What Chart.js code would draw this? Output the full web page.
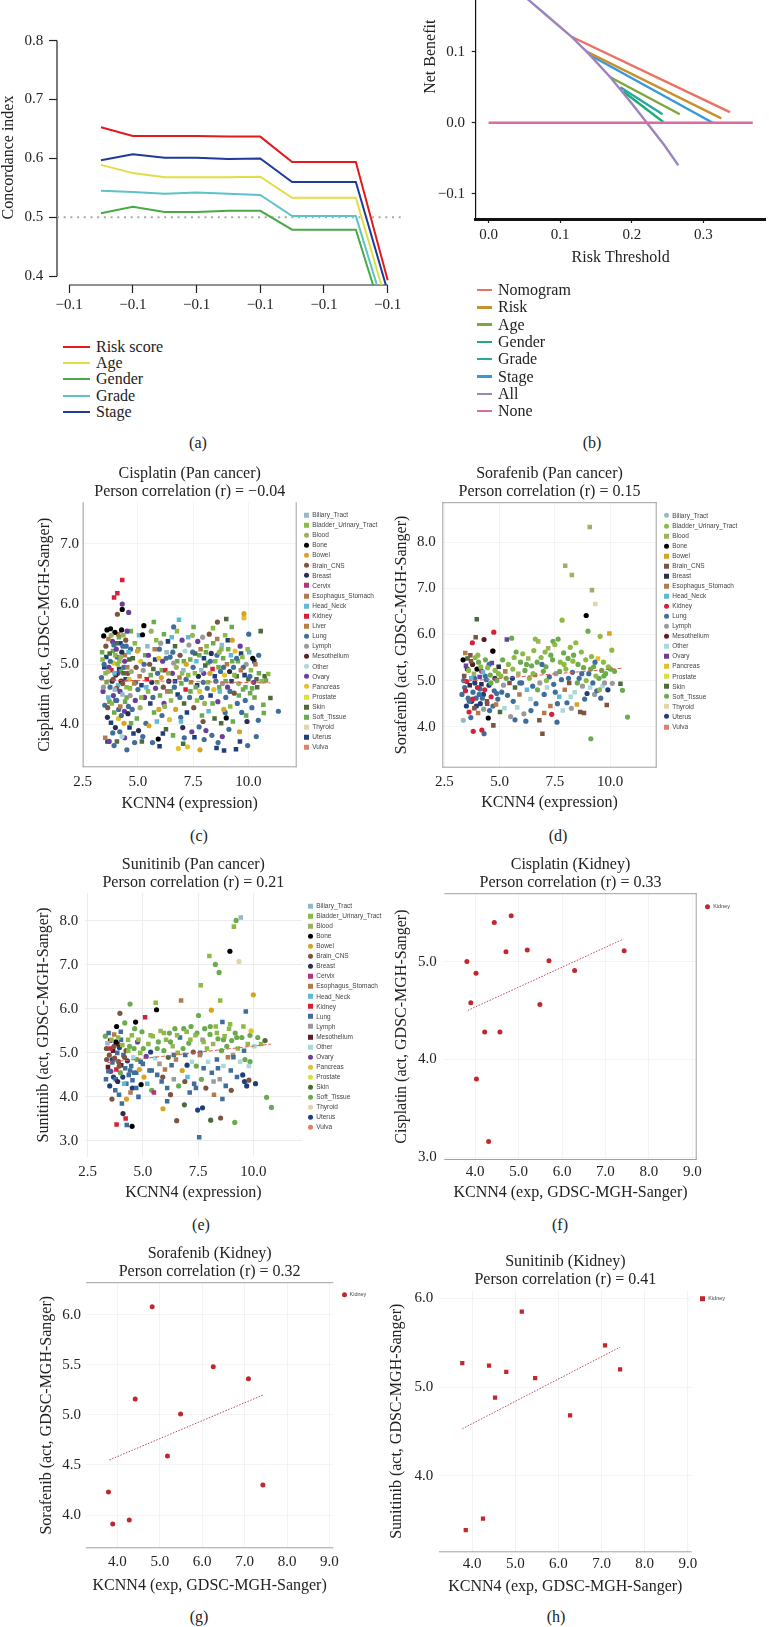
<!DOCTYPE html>
<html>
<head>
<meta charset="utf-8">
<title>KCNN4 figure</title>
<script src="https://cdn.jsdelivr.net/npm/chart.js"></script>
<style>
  body { margin: 0; width: 769px; height: 1627px; position: relative; overflow: hidden; background: #fff;
         font-family: "Liberation Serif", "Times New Roman", serif; color: #222; }
  canvas { position: absolute; }
  .lbl { position: absolute; font-size: 16px; transform: translate(-50%, -50%); white-space: nowrap; }
  .lrow { position: absolute; font-size: 16px; line-height: 1; transform: translateY(-50%); white-space: nowrap; display: flex; align-items: center; }
  .lrow i { display: inline-block; margin-right: 6px; }
  .trow { position: absolute; font-family: "Liberation Sans", Arial, sans-serif; font-size: 6.5px; color: #444;
          transform: translateY(-50%); white-space: nowrap; display: flex; align-items: center; line-height: 1; }
  .trow i { display: inline-block; width: 5px; height: 5px; margin-left: -2.5px; margin-right: 3px; }
</style>
</head>
<body>
  <canvas id="chartA"></canvas>
  <canvas id="chartB"></canvas>
  <canvas id="chartC"></canvas>
  <canvas id="chartD"></canvas>
  <canvas id="chartE"></canvas>
  <canvas id="chartF"></canvas>
  <canvas id="chartG"></canvas>
  <canvas id="chartH"></canvas>

  <div class="lbl" style="left:198px;top:443px">(a)</div>
  <div class="lbl" style="left:592px;top:443px">(b)</div>
  <div class="lbl" style="left:199px;top:836px">(c)</div>
  <div class="lbl" style="left:558px;top:836px">(d)</div>
  <div class="lbl" style="left:201px;top:1225px">(e)</div>
  <div class="lbl" style="left:560px;top:1225px">(f)</div>
  <div class="lbl" style="left:199px;top:1617px">(g)</div>
  <div class="lbl" style="left:556px;top:1617px">(h)</div>

<script>
// ---- (a) concordance index ----
const cIndexPos = [0.5, 1, 1.5, 2, 2.5, 3, 3.5, 4.5, 5];
const cIndexTicks = ['−0.1', '−0.1', '−0.1', '−0.1', '−0.1', '−0.1'];
const cIndexNames = ['Risk score', 'Age', 'Gender', 'Grade', 'Stage'];
const riskScoreC = [0.653, 0.638, 0.638, 0.638, 0.637, 0.637, 0.594, 0.594, 0.393];
const ageC       = [0.589, 0.575, 0.568, 0.568, 0.568, 0.569, 0.533, 0.533, 0.348];
const genderC    = [0.507, 0.518, 0.509, 0.509, 0.511, 0.511, 0.479, 0.479, 0.305];
const gradeC     = [0.545, 0.543, 0.540, 0.542, 0.540, 0.538, 0.502, 0.502, 0.325];
const stageC     = [0.597, 0.607, 0.601, 0.601, 0.599, 0.600, 0.560, 0.560, 0.374];
const chanceLevel = 0.5;

// ---- (b) decision curve ----
const dcaNames = ['Nomogram', 'Risk', 'Age', 'Gender', 'Grade', 'Stage', 'All', 'None'];
const dcaNomogram = [[0.116, 0.121], [0.337, 0.015]];
const dcaRisk     = [[0.137, 0.100], [0.325, 0.006]];
const dcaAge      = [[0.170, 0.064], [0.267, 0.012]];
const dcaGender   = [[0.188, 0.044], [0.244, 0.001]];
const dcaGrade    = [[0.184, 0.050], [0.243, 0.012]];
const dcaStage    = [[0.142, 0.095], [0.313, 0.000]];
const dcaAll      = [[0.05, 0.178], [0.08, 0.152], [0.116, 0.121], [0.14, 0.097], [0.17, 0.064],
                     [0.2, 0.027], [0.221, 0.0], [0.245, -0.031], [0.265, -0.060]];
const dcaNone     = [[0, 0], [0.369, 0]];

// ---- tissues ----
const tissues = ['Biliary_Tract', 'Bladder_Urinary_Tract', 'Blood', 'Bone', 'Bowel', 'Brain_CNS', 'Breast',
  'Cervix', 'Esophagus_Stomach', 'Head_Neck', 'Kidney', 'Liver', 'Lung', 'Lymph', 'Mesothelium', 'Other',
  'Ovary', 'Pancreas', 'Prostate', 'Skin', 'Soft_Tissue', 'Thyroid', 'Uterus', 'Vulva'];
const tissueColors = ['#93b9c9', '#8cba45', '#9bb35e', '#000000', '#d6a322', '#7b5541', '#2a2f4f',
  '#b5337a', '#b27a4d', '#5db9d8', '#d6203a', '#b5813c', '#3f6e9b', '#9a9a9a', '#5b1e27', '#a9d9d9',
  '#6a3f9b', '#e3c12b', '#d9e03c', '#4c6b3a', '#6aab4e', '#e3d3a9', '#1f3f7b', '#e0806b'];

// Cisplatin pan cancer: [KCNN4 expression, activity, tissue]
const cisPan = [
  [3.35,4.78,12],[3.40,5.08,1],[3.42,4.55,16],[3.45,5.47,3],[3.48,4.95,22],[3.50,4.32,12],[3.52,3.78,8],[3.55,5.30,5],
  [3.58,4.70,20],[3.60,5.57,3],[3.62,4.12,6],[3.65,4.88,2],[3.66,4.45,9],[3.70,3.72,16],[3.72,5.18,19],[3.74,4.62,12],
  [3.76,5.59,3],[3.78,4.03,22],[3.80,4.90,10],[3.82,4.35,1],[3.85,5.38,16],[3.86,3.86,12],[3.88,4.75,5],[3.90,5.02,17],
  [3.92,6.11,10],[3.93,4.20,20],[3.95,4.58,0],[3.96,5.53,3],[3.98,3.95,6],[4.00,4.82,14],
  [4.02,5.25,16],[4.04,4.40,12],[4.05,3.72,19],[4.07,6.18,10],[4.07,5.83,5],[4.08,5.00,1],[4.10,4.65,9],[4.12,4.10,17],
  [4.14,5.45,20],[4.15,4.92,22],[4.18,3.88,12],[4.20,4.30,8],[4.22,5.12,2],[4.24,4.72,6],[4.26,5.57,3],[4.28,3.80,15],
  [4.29,6.40,10],[4.29,6.00,16],[4.29,5.91,3],[4.30,4.50,0],[4.32,5.30,12],[4.35,4.85,19],[4.37,4.02,4],[4.40,5.05,16],
  [4.42,4.38,20],[4.45,5.40,5],[4.48,4.62,1],[4.50,3.58,12],[4.52,4.95,8],[4.55,4.18,6],[4.58,5.86,16],[4.58,5.20,9],
  [4.60,4.75,17],[4.62,3.95,22],[4.65,4.48,13],[4.68,5.55,20],[4.70,4.88,2],
  [4.74,4.25,12],[4.77,5.10,19],[4.80,3.85,22],[4.83,4.68,11],[4.86,5.35,1],[4.88,4.40,16],[4.92,4.95,5],[4.95,4.10,20],
  [4.98,5.22,4],[5.00,4.58,12],[5.03,3.90,6],[5.05,5.48,9],[5.08,4.80,8],[5.10,4.28,2],[5.13,5.05,17],[5.16,4.65,22],
  [5.18,3.72,19],[5.21,5.49,3],[5.24,4.90,13],[5.27,5.64,3],[5.30,4.45,16],[5.33,5.15,20],[5.36,4.02,12],[5.40,4.75,10],
  [5.43,5.30,0],[5.46,4.55,1],[5.50,3.98,4],
  [5.53,5.00,5],[5.56,4.35,22],[5.60,5.55,2],[5.63,4.70,6],[5.66,3.70,12],[5.70,4.92,19],[5.73,4.20,20],[5.76,5.25,8],
  [5.80,4.60,16],[5.83,5.40,1],[5.86,4.05,9],[5.89,4.85,12],[5.92,3.76,3],[5.95,5.10,17],[5.98,3.64,22],[6.00,4.48,20],
  [6.03,5.35,13],[6.06,4.78,4],[6.09,4.15,12],[6.12,5.05,16],[6.15,4.62,5],[6.18,5.50,20],[6.21,4.30,2],[6.24,4.90,10],
  [6.27,3.92,19],[6.30,5.20,0],[6.33,4.55,8],[6.36,5.38,22],[6.40,4.72,6],[6.43,4.08,17],[6.46,5.12,12],
  [6.50,4.40,1],[6.53,5.45,9],[6.56,4.85,16],[6.59,3.82,20],[6.62,5.02,13],[6.65,4.62,12],[6.68,5.30,19],[6.71,4.25,4],
  [6.74,4.95,2],[6.77,5.55,1],[6.80,4.50,22],[6.83,3.60,17],[6.86,5.74,9],[6.88,4.78,8],[6.91,5.15,5],[6.94,4.12,12],
  [6.97,4.68,20],[7.00,5.40,16],[7.03,3.95,6],[7.06,4.90,0],[7.09,4.35,19],[7.10,3.78,12],[7.13,5.22,15],[7.16,4.58,10],
  [7.19,5.00,4],[7.22,4.20,22],[7.25,3.63,17],[7.28,4.82,1],[7.31,5.32,13],[7.34,4.45,12],[7.37,5.08,20],[7.40,4.70,8],
  [7.44,3.88,16],[7.47,5.48,2],
  [7.50,4.95,12],[7.53,4.28,5],[7.56,3.79,22],[7.59,5.18,19],[7.62,4.62,20],[7.65,5.05,9],[7.68,4.40,1],[7.71,5.38,16],
  [7.74,4.80,6],[7.77,3.96,12],[7.80,4.55,17],[7.81,3.58,4],[7.84,5.25,8],[7.87,4.90,0],[7.90,4.15,20],[7.93,5.45,13],
  [7.96,4.70,12],[7.99,5.10,22],[8.02,4.35,2],[8.05,4.98,19],[8.08,3.90,16],[8.11,5.30,1],[8.14,4.60,12],[8.17,5.02,20],
  [8.20,4.22,9],[8.23,5.50,5],[8.26,4.85,4],[8.29,4.48,22],[8.32,5.18,6],[8.35,3.82,12],[8.38,4.92,10],[8.41,5.35,20],
  [8.44,4.58,17],[8.47,4.10,19],
  [8.50,5.05,1],[8.53,4.72,12],[8.56,3.61,22],[8.59,5.42,8],[8.60,5.70,5],[8.62,4.38,16],[8.63,3.70,12],[8.65,4.95,20],
  [8.68,5.20,2],[8.71,4.55,9],[8.74,4.88,12],[8.77,4.02,19],[8.80,5.32,0],[8.83,4.68,13],[8.86,5.10,20],[8.89,4.25,4],
  [8.90,3.57,22],[8.92,4.82,17],[8.95,5.48,1],[8.98,4.45,12],[9.00,4.11,3],[9.00,5.75,19],[9.03,5.00,8],[9.06,4.62,16],
  [9.09,5.25,20],[9.12,3.92,12],[9.15,4.88,6],[9.18,4.30,1],[9.21,5.15,9],[9.24,4.72,22],[9.27,5.40,4],[9.30,4.05,20],
  [9.33,4.95,12],[9.36,4.52,5],[9.40,5.22,17],[9.44,3.59,22],[9.47,4.80,19],
  [9.50,4.35,12],[9.53,5.05,20],[9.56,4.68,2],[9.60,3.88,4],[9.63,5.30,16],[9.66,4.90,8],[9.70,4.20,12],[9.73,5.12,1],
  [9.76,4.58,20],[9.80,5.84,4],[9.80,5.77,17],[9.83,4.82,22],[9.86,4.40,12],[9.90,5.00,13],[9.94,4.05,6],[9.97,3.65,12],
  [10.00,4.75,19],[10.04,5.20,9],[10.08,4.52,20],[10.12,4.90,1],[10.16,4.28,12],[10.20,5.10,3],[10.24,4.70,16],
  [10.28,4.45,20],[10.32,5.00,8],[10.36,3.80,12],[10.40,4.62,19],[10.45,4.07,12],[10.48,4.85,20],
  [10.56,5.55,19],[10.60,4.72,1],[10.68,4.33,20],[10.74,4.80,19],[10.80,4.73,20],[10.90,4.84,1],[11.00,4.44,19],
  [10.70,4.19,20],[11.36,4.22,12],
  [3.38,5.20,20],[3.44,4.62,13],[3.47,5.00,12],[3.53,4.85,1],[3.57,5.12,22],[3.63,4.28,5],[3.67,5.42,8],[3.69,4.95,16],
  [3.71,4.38,20],[3.75,5.05,12],[3.79,5.48,2],[3.83,4.72,6],[3.87,5.22,20],[3.89,4.48,16],[3.91,5.32,12],[3.94,4.85,9],
  [3.97,5.15,1],[3.99,4.40,22],[4.01,5.35,19],[4.03,4.60,5],[4.06,5.12,12],[4.09,4.85,16],[4.11,5.50,8],[4.13,4.25,12],
  [4.16,5.05,1],[4.19,4.55,16],[4.21,5.35,22],[4.23,4.88,20],[4.25,4.15,12],[4.27,5.20,6],[4.31,4.68,5],[4.34,5.48,1],
  [4.36,4.95,12],[4.39,4.22,16],[4.41,5.15,8],[4.44,4.75,22],[4.47,5.30,12],[4.49,4.45,20],[4.51,5.55,16],[4.54,4.85,5],
  [4.57,4.30,12],[4.61,5.08,19],[4.64,4.60,1],[4.67,5.25,12],[4.69,4.02,20],
  [4.90,4.70,12],[5.02,5.25,20],[5.15,4.45,1],[5.28,5.00,12],[5.38,4.62,9],[5.48,5.15,16],[5.58,4.82,20],[5.68,4.45,12],
  [5.78,5.08,22],[5.88,4.70,1],[5.97,5.25,12],[6.08,4.90,20],[6.18,4.35,16],[6.28,5.10,12],[6.38,4.85,1],[6.48,4.55,20],
  [6.58,5.20,12],[6.68,4.72,22],[6.78,5.05,20],[6.90,4.45,12],[7.00,4.85,1],[7.08,5.05,20],[7.18,4.75,12],[7.28,5.45,9],
  [7.38,4.55,20],[7.48,5.20,12],[7.58,4.85,1],[7.68,4.65,22],[7.78,5.15,20],[7.88,4.45,12],[7.98,4.85,16],[8.08,5.20,20],
  [8.18,4.70,1],[8.28,5.05,12],[8.38,4.35,20],[8.48,4.80,22],[8.58,5.15,12],[8.68,4.62,20],[8.78,5.25,1],[8.88,4.95,12],
  [8.97,4.72,20],[9.07,5.40,22],[9.17,4.55,12],[9.27,5.05,20],[9.37,4.82,1],[9.47,5.10,12],[9.57,4.48,20],[9.67,5.18,22],
  [9.77,4.95,12],[9.87,4.62,20],[9.97,5.25,1],[10.07,4.80,12],[10.17,4.60,20],[10.27,5.05,22],[10.37,4.75,19],
  [10.47,5.15,12],
  [5.22,3.80,12],[5.72,5.70,20],[6.13,3.85,22],[6.62,5.62,12],[7.05,3.68,19],[7.52,5.62,20],[8.00,3.75,12],[8.40,5.60,1],
  [8.82,3.80,16],[9.25,5.62,20],[9.62,3.72,22],[10.02,5.50,12],[6.95,4.05,9],[7.95,4.05,5],[8.95,4.20,12],[9.90,4.15,20],
  [5.95,4.25,4],[4.85,3.70,12],[3.62,3.72,22],[3.92,3.65,12],[4.40,3.78,16]
];
const cisPanFit = [[3.3, 4.74], [11.0, 4.69]];

// Sorafenib pan cancer
const sorPan = [
  [3.30,4.70,12],[3.35,5.45,3],[3.36,4.14,0],[3.40,5.10,5],[3.42,4.85,12],[3.45,5.60,8],[3.48,5.32,16],[3.50,4.45,22],
  [3.52,4.98,10],[3.55,5.48,19],[3.58,4.62,12],[3.60,5.22,1],[3.62,4.32,10],[3.65,4.90,6],[3.68,5.55,5],[3.70,4.20,12],
  [3.72,5.05,9],[3.74,4.55,22],[3.77,5.82,10],[3.78,5.35,14],[3.80,4.75,12],[3.81,3.90,10],[3.84,5.15,2],[3.86,4.40,5],
  [3.88,4.95,22],[3.90,5.50,1],[3.92,5.94,5],[3.94,4.62,12],[3.97,6.33,19],[3.98,5.25,3],[4.00,4.85,10],[4.03,4.30,8],
  [4.05,5.40,20],[4.08,4.70,12],[4.10,5.08,16],[4.13,4.50,22],[4.15,5.30,1],[4.18,4.92,6],[4.20,3.93,10],[4.22,4.62,12],
  [4.25,5.18,9],[4.28,4.38,13],[4.30,5.89,14],[4.30,3.85,12],[4.33,4.80,10],[4.36,5.45,20],[4.40,5.02,12],[4.43,4.55,5],
  [4.46,5.28,1],[4.49,4.19,3],[4.52,4.90,22],[4.55,4.35,12],[4.58,5.12,20],[4.62,4.65,10],[4.65,5.38,16],[4.69,5.64,10],
  [4.70,5.64,3],[4.72,4.03,5],[4.74,6.05,10],[4.76,4.78,12],[4.80,5.22,1],[4.84,4.48,8],[4.88,5.00,20],[4.92,4.60,12],
  [4.96,5.30,6],
  [5.02,4.32,19],[5.06,5.10,1],[5.10,4.75,12],[5.14,5.45,20],[5.18,4.90,13],[5.22,4.40,15],[5.26,5.20,8],[5.33,5.89,16],
  [5.36,4.68,12],[5.40,5.35,1],[5.45,4.95,5],[5.50,4.22,13],[5.55,5.92,20],[5.58,5.05,22],[5.62,4.55,12],[5.66,5.50,1],
  [5.70,4.85,19],[5.75,5.62,20],[5.80,4.42,15],[5.85,5.15,2],[5.90,4.70,8],[5.95,5.40,20],[6.00,4.95,12],[6.05,5.58,1],
  [6.10,4.28,13],[6.15,5.22,20],[6.19,4.12,12],[6.24,4.80,9],[6.30,5.48,2],[6.35,5.05,1],[6.40,4.60,15],[6.45,5.32,20],
  [6.50,4.88,12],[6.55,5.65,1],[6.60,5.12,8],[6.65,4.50,12],[6.70,5.40,20],[6.75,5.85,2],[6.80,4.14,5],[6.82,4.95,13],
  [6.88,5.50,1],[6.94,3.85,5],[6.98,5.20,20],
  [7.02,4.70,12],[7.06,5.62,1],[7.10,5.30,20],[7.15,4.85,15],[7.20,5.70,2],[7.25,5.08,12],[7.30,4.45,8],[7.36,4.27,10],
  [7.40,5.45,20],[7.45,4.92,12],[7.50,5.78,1],[7.55,5.15,13],[7.60,4.10,12],[7.65,5.90,20],[7.70,4.65,9],[7.75,5.40,1],
  [7.80,5.02,12],[7.83,6.31,1],[7.86,4.35,15],[7.90,5.60,20],[7.95,4.80,8],[7.97,7.49,2],[8.00,5.25,1],[8.05,4.52,12],
  [8.10,5.48,20],[8.15,4.95,5],[8.20,5.72,1],[8.25,4.40,13],[8.27,7.29,2],[8.30,5.18,12],[8.35,5.55,20],[8.40,4.75,15],
  [8.45,5.82,1],[8.50,4.48,4],[8.55,5.35,20],[8.60,5.05,12],[8.65,4.32,5],[8.70,5.62,1],[8.75,4.88,13],[8.80,5.28,20],
  [8.85,4.60,12],[8.90,5.45,1],[8.92,6.41,3],[8.96,4.72,22],
  [9.00,6.07,20],[9.04,5.15,12],[9.08,8.33,2],[9.10,4.85,15],[9.13,3.74,20],[9.16,5.52,1],[9.18,6.96,2],[9.22,4.95,12],
  [9.26,5.30,20],[9.30,4.70,13],[9.33,6.66,21],[9.36,5.10,1],[9.40,4.78,12],[9.45,5.48,17],[9.50,5.05,20],[9.55,5.96,1],
  [9.58,4.62,12],[9.62,5.22,20],[9.66,4.88,15],[9.70,5.40,1],[9.75,4.95,13],[9.80,5.15,20],[9.85,4.47,5],[9.90,4.80,22],
  [9.97,6.02,4],[10.02,5.25,20],[10.08,5.66,1],[10.10,4.94,13],[10.20,5.20,20],[10.47,4.93,19],[10.56,4.79,20],
  [10.79,4.21,20],
  [3.38,5.00,12],[3.46,4.78,10],[3.54,5.25,22],[3.63,4.55,12],[3.71,5.42,5],[3.79,4.60,10],[3.87,5.05,12],[3.95,4.45,22],
  [4.02,5.55,1],[4.11,4.82,12],[4.19,5.20,10],[4.27,4.70,22],[4.35,5.10,12],[4.44,4.50,5],[4.53,5.35,12],[4.61,4.95,20],
  [4.70,4.45,12],[4.79,5.05,22],[4.87,4.72,12],[4.95,5.15,1],
  [5.30,5.05,20],[5.60,5.25,1],[5.92,4.95,12],[6.22,5.35,20],[6.52,5.15,1],[6.72,4.80,20],[6.92,5.35,12],[7.12,5.00,1],
  [7.32,5.55,20],[7.52,4.75,12],[7.72,5.20,20],[7.92,5.35,1],[8.12,5.05,12],[8.32,5.42,1],[8.52,4.95,20],[8.72,5.15,12],
  [8.92,5.00,1],[9.12,5.25,20],[9.32,5.40,12],[9.52,4.80,1],[9.72,5.10,20],[9.92,5.30,1],[6.42,4.35,12],[7.02,4.30,8],
  [7.62,4.50,12],[8.22,4.65,15],[8.82,4.30,5],[5.70,4.15,12],[6.62,5.90,1],[7.42,5.85,20]
];
const sorPanFit = [[3.3, 4.98], [10.6, 5.27]];

// Sunitinib pan cancer
const sunPan = [
  [3.30,5.38,20],[3.33,4.40,12],[3.36,4.85,5],[3.40,5.22,0],[3.42,4.68,14],[3.45,5.45,12],[3.48,4.95,5],[3.50,4.25,22],
  [3.53,5.10,10],[3.55,4.58,16],[3.58,5.30,1],[3.60,3.95,5],[3.62,4.78,12],[3.65,5.05,14],[3.67,4.45,22],[3.70,5.42,8],
  [3.72,4.88,5],[3.75,4.15,12],[3.78,5.25,3],[3.80,4.62,10],[3.81,5.60,3],[3.81,3.37,10],[3.84,5.00,12],[3.86,4.35,6],
  [3.88,5.35,1],[3.90,4.80,5],[3.92,4.05,12],[3.94,5.12,22],[3.96,5.90,5],[3.98,4.55,20],[4.00,5.48,12],[4.02,4.72,14],
  [4.05,3.85,12],[4.07,5.18,1],[4.10,3.62,6],[4.12,4.95,12],[4.15,4.30,9],[4.18,5.68,20],[4.20,4.65,12],[4.22,3.51,10],
  [4.24,5.05,5],[4.26,3.95,4],[4.27,3.36,12],[4.30,4.82,22],[4.33,5.30,1],[4.36,4.50,12],[4.40,5.15,20],[4.42,6.11,20],
  [4.44,4.10,8],[4.47,4.70,12],[4.50,5.40,1],[4.51,3.33,3],[4.53,4.38,12],[4.56,4.90,15],[4.60,4.55,12],[4.63,5.55,20],
  [4.67,5.70,3],[4.70,4.20,12],[4.73,4.85,20],[4.76,5.25,16],[4.80,4.00,12],[4.84,4.62,4],[4.88,5.00,1],[4.92,4.28,3],
  [4.96,5.48,20],[5.00,4.75,12],[5.05,4.45,4],[5.10,5.81,10],[5.15,4.92,16],
  [5.20,4.30,9],[5.25,5.20,1],[5.30,4.60,12],[5.35,5.02,22],[5.40,4.15,20],[5.45,5.38,1],[5.50,4.10,7],[5.55,4.88,15],
  [5.58,6.14,1],[5.62,5.98,3],[5.65,4.50,12],[5.70,5.25,20],[5.75,4.75,13],[5.80,5.50,2],[5.85,4.35,12],[5.91,3.73,4],
  [5.95,5.05,20],[6.00,4.62,8],[6.05,5.30,1],[6.10,4.20,12],[6.15,4.90,19],[6.20,5.45,20],[6.25,4.05,5],[6.30,4.72,12],
  [6.35,5.15,2],[6.40,4.40,13],[6.45,5.55,20],[6.50,4.85,8],[6.53,3.46,5],[6.58,5.00,1],[6.62,4.25,20],[6.68,5.35,12],
  [6.73,6.19,8],[6.78,4.60,4],[6.82,5.10,20],[6.88,3.82,19],[6.92,4.95,12],[6.98,5.48,1],[7.02,4.45,9],[7.08,5.22,20],
  [7.12,4.10,12],[7.18,5.60,20],[7.22,4.80,15],[7.28,5.02,5],[7.32,4.30,12],[7.38,5.40,1],[7.42,4.70,20],[7.48,3.70,22],
  [7.52,5.85,20],[7.55,3.08,12],[7.58,4.95,8],[7.62,6.54,1],[7.65,4.40,20],[7.70,5.30,13],[7.75,4.65,12],[7.80,5.55,20],
  [7.85,4.20,5],[7.90,5.10,1],[7.95,4.80,15],[8.01,7.20,1],[8.04,5.42,20],[8.07,3.47,19],[8.10,5.97,4],[8.12,4.55,12],
  [8.18,5.20,2],[8.22,4.05,8],[8.28,7.01,20],[8.30,5.60,1],[8.35,4.85,12],[8.40,5.32,20],[8.45,6.83,20],[8.48,4.40,13],
  [8.50,6.19,1],[8.52,3.52,5],[8.56,5.05,20],[8.60,5.70,12],[8.65,4.70,15],[8.70,5.38,1],[8.75,4.25,12],[8.80,5.15,20],
  [8.85,4.90,8],[8.90,5.55,1],[8.94,7.31,3],[8.98,4.60,12],[9.02,5.28,20],[9.08,4.95,13],[9.12,7.87,1],[9.16,3.42,20],
  [9.18,5.45,20],[9.22,8.01,20],[9.26,4.45,12],[9.30,5.10,1],[9.35,7.08,21],[9.40,4.80,15],[9.43,8.08,0],[9.48,5.35,20],
  [9.52,4.50,22],[9.58,5.05,12],[9.62,4.85,20],[9.66,5.94,12],[9.70,4.25,22],[9.75,5.20,1],[9.80,4.38,5],[9.85,4.80,20],
  [9.90,5.50,17],[10.00,6.32,4],[10.05,5.15,15],[10.10,4.30,22],[10.20,5.35,20],[10.35,5.20,1],[10.53,5.28,19],
  [10.60,3.99,20],[10.82,3.76,20],
  [3.35,5.10,5],[3.44,4.58,12],[3.52,5.28,14],[3.61,4.85,22],[3.69,5.15,5],[3.77,4.40,12],[3.85,5.20,14],[3.93,4.70,5],
  [4.01,5.30,12],[4.09,4.45,22],[4.17,4.90,5],[4.25,4.30,12],[4.34,5.05,1],[4.42,4.60,12],[4.52,4.20,22],[4.60,5.10,20],
  [4.70,4.55,12],[4.80,5.30,1],[4.90,4.80,12],[5.02,5.10,20],
  [5.35,5.40,1],[5.65,5.10,20],[5.95,5.45,1],[6.25,5.25,20],[6.55,5.40,1],[6.85,5.55,20],[7.15,5.30,1],[7.45,5.45,20],
  [7.75,5.25,1],[8.05,5.60,20],[8.35,5.45,1],[8.65,5.30,20],[8.95,5.65,1],[9.25,5.35,20],[9.55,5.60,1],[9.85,5.40,20],
  [6.10,3.90,12],[6.90,4.35,5],[7.40,4.20,12],[7.70,3.75,22],[8.20,4.35,13],[8.60,3.95,12],[9.00,4.15,5],[9.60,4.35,22],
  [5.40,4.60,12],[5.90,4.45,5],[6.40,4.95,12],[7.00,4.72,22],[7.60,5.00,12],[8.40,4.65,12],[9.10,4.90,12],[9.80,4.70,15]
];
const sunPanFit = [[3.4, 4.78], [10.8, 5.20]];

// Kidney panels: KCNN4 expression and drug activity
const cisKidX = [3.81, 4.02, 3.90, 4.22, 4.57, 4.03, 4.31, 4.44, 4.83, 4.71, 5.20, 5.70, 5.49, 6.29, 7.43];
const cisKidY = [5.00, 4.88, 4.58, 4.28, 4.28, 3.80, 3.16, 5.40, 5.47, 5.10, 5.12, 5.01, 4.56, 4.91, 5.11];
const cisKidFit = [[3.83, 4.50], [7.41, 5.23]];
const sorKidX = [4.82, 4.42, 5.49, 5.18, 6.26, 7.09, 7.43, 3.79, 3.89, 4.28];
const sorKidY = [6.08, 5.16, 5.01, 4.59, 5.48, 5.36, 4.30, 4.23, 3.91, 3.95];
const sorKidFit = [[3.81, 4.55], [7.44, 5.20]];
const sunKidX = [5.15, 3.77, 4.39, 4.79, 5.46, 4.53, 6.27, 7.08, 7.43, 4.25, 3.85];
const sunKidY = [5.85, 5.27, 5.24, 5.17, 5.10, 4.88, 4.68, 5.47, 5.20, 3.52, 3.39];
const sunKidFit = [[3.77, 4.53], [7.43, 5.45]];

const legendC = [0,1,2,3,4,5,6,7,8,9,10,11,12,13,14,15,16,17,18,19,20,21,22,23];
const legendD = [0,1,2,3,4,5,6,8,9,10,12,13,14,15,16,17,18,19,20,21,22,23];
const legendE = [0,1,2,3,4,5,6,7,8,9,10,12,13,14,15,16,17,18,19,20,21,22,23];
const squaresC = [0,1,7,8,9,10,11,18,19,20,21,22,23];
const squaresD = [2,4,5,6,8,9,15,16,17,18,19,21,23];
const squaresE = [0,1,2,7,8,9,10,12,13,14,15];

// ---------- helpers ----------
Chart.defaults.font.family = "'Liberation Serif', 'Times New Roman', serif";
Chart.defaults.color = '#222';

const frame = {
  id: 'frame',
  beforeDatasetsDraw(chart, args, opts) {
    const a = chart.chartArea, ctx = chart.ctx;
    ctx.save();
    ctx.strokeStyle = opts.color || '#999';
    ctx.lineWidth = 1;
    ctx.beginPath();
    const s = opts.sides || '';
    if (s.includes('t')) { ctx.moveTo(a.left, a.top + 0.5); ctx.lineTo(a.right, a.top + 0.5); }
    if (s.includes('b')) { ctx.moveTo(a.left, a.bottom - 0.5); ctx.lineTo(a.right, a.bottom - 0.5); }
    if (s.includes('l')) { ctx.moveTo(a.left + 0.5, a.top); ctx.lineTo(a.left + 0.5, a.bottom); }
    if (s.includes('r')) { ctx.moveTo(a.right - 0.5, a.top); ctx.lineTo(a.right - 0.5, a.bottom); }
    ctx.stroke();
    if (opts.rAxes) {
      // R style axes: lines only span from first to last tick
      const x = chart.scales.x, y = chart.scales.y;
      ctx.strokeStyle = '#222';
      ctx.lineWidth = 1.2;
      ctx.beginPath();
      ctx.moveTo(x.getPixelForValue(x.ticks[0].value), a.bottom);
      ctx.lineTo(x.getPixelForValue(x.ticks[x.ticks.length - 1].value), a.bottom);
      ctx.moveTo(a.left, y.getPixelForValue(y.ticks[0].value));
      ctx.lineTo(a.left, y.getPixelForValue(y.ticks[y.ticks.length - 1].value));
      ctx.stroke();
    }
    ctx.restore();
  }
};
Chart.register(frame);

function fmtNum(v) { return (v < 0 ? '−' : '') + Math.abs(v).toFixed(1); }

function axis(min, max, ticks, o) {
  return {
    type: 'linear', min: min, max: max, bounds: 'data',
    afterBuildTicks: s => { s.ticks = ticks.map(v => ({ value: v })); },
    ticks: { autoSkip: false, maxRotation: 0, minRotation: 0, padding: o.pad, color: '#222',
             font: { size: 15, lineHeight: 1.2 }, callback: o.fmt || (v => fmtNum(v)) },
    grid: { display: true, color: o.gridColor || '#f0f0f0', drawOnChartArea: !!o.gridColor,
            drawTicks: !!o.tick, tickLength: o.tick || 0, tickColor: '#222', tickWidth: 1.2 },
    border: { display: !!o.border, color: '#111', width: o.border || 1 },
    title: o.title ? { display: true, text: o.title, color: '#222',
                       font: { size: 16, lineHeight: o.titleLH || 1.1 }, padding: o.titlePad } : { display: false },
    afterFit: s => {
      if (s.isHorizontal()) s.height = o.size; else s.width = o.size;
      s.paddingLeft = 0; s.paddingRight = 0; s.paddingTop = 0; s.paddingBottom = 0;
    }
  };
}

function place(id, x, y, w, h) {
  const c = document.getElementById(id);
  c.width = w; c.height = h;
  c.style.left = x + 'px'; c.style.top = y + 'px';
  c.style.width = w + 'px'; c.style.height = h + 'px';
  return c;
}

function pts(xs, ys) { return xs.map((x, i) => ({ x: x, y: ys[i] })); }
function pairs(arr) { return arr.map(p => ({ x: p[0], y: p[1] })); }

function tissueSets(points, ids, squares) {
  return ids.map(t => ({
    label: tissues[t],
    data: points.filter(p => p[2] === t).map(p => ({ x: p[0], y: p[1] })),
    pointStyle: squares.includes(t) ? 'rect' : 'circle',
    pointRadius: squares.includes(t) ? 3.2 : 2.6,
    backgroundColor: tissueColors[t], borderWidth: 0, order: 2
  }));
}

function fitLine(arr, color, dash) {
  return { data: pairs(arr), showLine: true, borderColor: color, borderWidth: 1, borderDash: dash,
           pointRadius: 0, order: 0 };
}

// generic scatter panel with 2-line title, axis titles and exact plot rectangle
function scatterPanel(id, p) {
  const lh = 17.6;
  const left = p.left, top = Math.round(p.plot.t - (2 * lh + 8));
  const bottom = Math.round(p.xTitleY + lh / 2 + 2);
  const width = p.width;
  place(id, left, top, width, bottom - top);
  new Chart(document.getElementById(id), {
    type: 'scatter',
    data: { datasets: p.datasets },
    options: {
      responsive: false, animation: false, events: [],
      layout: { padding: { top: 0, left: 0, bottom: 0, right: left + width - p.plot.r } },
      plugins: {
        legend: { display: false }, tooltip: { enabled: false },
        title: { display: true, text: p.title, fullSize: false, color: '#222',
                 font: { size: 16, weight: 'normal', lineHeight: 1.1 }, padding: { top: 6, bottom: 2 } },
        frame: { sides: p.sides, color: '#a0a0a0' }
      },
      scales: {
        x: axis(p.xr[0], p.xr[1], p.xTicks, { size: bottom - p.plot.b, pad: p.xLabelY - p.plot.b - 9,
             gridColor: p.grid, title: p.xTitle, titlePad: { top: 0, bottom: 2 } }),
        y: axis(p.yr[0], p.yr[1], p.yTicks, { size: p.plot.l - left, pad: p.plot.l - p.yLabelR,
             gridColor: p.grid, title: p.yTitle, titlePad: { top: p.yTitleX - left - lh / 2, bottom: 0 } })
      }
    }
  });
}

function tissueLegend(x, y0, step, ids, squares) {
  ids.forEach((t, i) => {
    const row = document.createElement('div');
    row.className = 'trow';
    row.style.left = x + 'px';
    row.style.top = (y0 + i * step) + 'px';
    const mk = document.createElement('i');
    mk.style.background = tissueColors[t];
    mk.style.borderRadius = squares.includes(t) ? '0' : '50%';
    row.appendChild(mk);
    row.appendChild(document.createTextNode(tissues[t]));
    document.body.appendChild(row);
  });
}

function lineLegend(x, y0, step, names, colors, lineW, thick) {
  names.forEach((n, i) => {
    const row = document.createElement('div');
    row.className = 'lrow';
    row.style.left = x + 'px';
    row.style.top = (y0 + i * step) + 'px';
    const mk = document.createElement('i');
    mk.style.width = lineW + 'px';
    mk.style.height = thick + 'px';
    mk.style.background = colors[i];
    row.appendChild(mk);
    row.appendChild(document.createTextNode(n));
    document.body.appendChild(row);
  });
}

// ---------- (a) ----------
const cColors = ['#e3191c', '#e2dd45', '#4aa947', '#5ec3c8', '#1f3b99'];
const cSeries = [riskScoreC, ageC, genderC, gradeC, stageC];
place('chartA', 0, 0, 410, 320);
new Chart(document.getElementById('chartA'), {
  type: 'scatter',
  data: {
    datasets: cSeries.map((s, i) => ({
      data: pts(cIndexPos, s), showLine: true, borderColor: cColors[i], borderWidth: 2,
      pointRadius: 0, tension: 0
    })).concat([{
      data: pairs([[-0.19, chanceLevel], [5.24, chanceLevel]]), showLine: true, borderColor: '#a8a8a8',
      borderWidth: 2, borderDash: [2, 4.7], pointRadius: 0
    }])
  },
  options: {
    responsive: false, animation: false, events: [],
    layout: { padding: { top: 30, right: 7, left: 0, bottom: 0 } },
    plugins: { legend: { display: false }, tooltip: { enabled: false }, frame: { rAxes: true } },
    scales: {
      x: axis(-0.19, 5.24, [0, 1, 2, 3, 4, 5], { size: 35, pad: 3, tick: 8,
           fmt: (v, i) => cIndexTicks[i] }),
      y: axis(0.385, 0.818, [0.4, 0.5, 0.6, 0.7, 0.8], { size: 57, pad: 5.7, tick: 8,
           title: 'Concordance index', titleLH: 1.0, titlePad: { top: 0.5, bottom: 0 } })
    }
  }
});
lineLegend(63, 347, 16.2, cIndexNames, cColors, 27, 2);

// ---------- (b) ----------
const dcaColors = ['#ec7063', '#c8912f', '#7ea63a', '#1faa76', '#27a8a2', '#3399dd', '#9b84bc', '#dd6b9f'];
const dcaSeries = [dcaNomogram, dcaRisk, dcaAge, dcaGender, dcaGrade, dcaStage, dcaAll, dcaNone];
place('chartB', 385, -106, 384, 376);
new Chart(document.getElementById('chartB'), {
  type: 'scatter',
  data: {
    datasets: dcaSeries.map((s, i) => ({
      data: pairs(s), showLine: true, borderColor: dcaColors[i], borderWidth: 2.4,
      pointRadius: 0, order: i >= 6 ? 7 - i : 5 + i
    }))
  },
  options: {
    responsive: false, animation: false, events: [],
    layout: { padding: { top: 0.4, right: 3.3, left: 0, bottom: 0 } },
    plugins: { legend: { display: false }, tooltip: { enabled: false } },
    scales: {
      x: axis(-0.018, 0.387, [0, 0.1, 0.2, 0.3], { size: 51, pad: 3, tick: 4, border: 3,
           title: 'Risk Threshold', titleLH: 1.2, titlePad: { top: 0, bottom: 2.4 } }),
      y: axis(-0.1356, 0.3215, [-0.1, 0, 0.1], { size: 90.7, pad: 6.7, tick: 4, border: 1.2,
           title: 'Net Benefit', titleLH: 1.2, titlePad: { top: 36.4, bottom: 0 } })
    }
  }
});
lineLegend(477, 290, 17.3, dcaNames, dcaColors, 15, 2.6);

// ---------- (c) ----------
scatterPanel('chartC', {
  left: 20, width: 300,
  plot: { l: 82.7, t: 501.7, r: 296.7, b: 767.3 },
  xr: [2.5, 12.19], yr: [3.29, 7.69], xTicks: [2.5, 5, 7.5, 10], yTicks: [4, 5, 6, 7],
  title: ['Cisplatin (Pan cancer)', 'Person correlation (r) = −0.04'],
  xTitle: 'KCNN4 (expression)', yTitle: 'Cisplatin (act, GDSC-MGH-Sanger)',
  xTitleY: 804, yTitleX: 45, xLabelY: 781.7, yLabelR: 79, sides: 'lbr', grid: '#f3f3f3',
  datasets: [fitLine(cisPanFit, '#e2574c', [4, 2])].concat(tissueSets(cisPan, legendC, squaresC))
});
tissueLegend(306.7, 515, 10.1, legendC, squaresC);

// ---------- (d) ----------
scatterPanel('chartD', {
  left: 385, width: 300,
  plot: { l: 442.3, t: 501.7, r: 656.7, b: 767.7 },
  xr: [2.41, 12.11], yr: [3.113, 8.865], xTicks: [2.5, 5, 7.5, 10], yTicks: [4, 5, 6, 7, 8],
  title: ['Sorafenib (Pan cancer)', 'Person correlation (r) = 0.15'],
  xTitle: 'KCNN4 (expression)', yTitle: 'Sorafenib (act, GDSC-MGH-Sanger)',
  xTitleY: 803.3, yTitleX: 401.7, xLabelY: 781.7, yLabelR: 435.7, sides: 'tlbr', grid: '#f3f3f3',
  datasets: [fitLine(sorPanFit, '#e2574c', [4, 2])].concat(tissueSets(sorPan, legendD, squaresD))
});
tissueLegend(666.7, 515.7, 10.05, legendD, squaresD);

// ---------- (e) ----------
scatterPanel('chartE', {
  left: 20, width: 300,
  plot: { l: 85, t: 893.3, r: 301.7, b: 1156.7 },
  xr: [2.38, 12.19], yr: [2.64, 8.63], xTicks: [2.5, 5, 7.5, 10], yTicks: [3, 4, 5, 6, 7, 8],
  title: ['Sunitinib (Pan cancer)', 'Person correlation (r) = 0.21'],
  xTitle: 'KCNN4 (expression)', yTitle: 'Sunitinib (act, GDSC-MGH-Sanger)',
  xTitleY: 1192.7, yTitleX: 43.3, xLabelY: 1171.7, yLabelR: 78.3, sides: '', grid: '#ececec',
  datasets: [fitLine(sunPanFit, '#e2574c', [4, 2])].concat(tissueSets(sunPan, legendE, squaresE))
});
tissueLegend(310.7, 906, 10.06, legendE, squaresE);

// ---------- kidney panels ----------
const kidneyColor = '#c1272d';
function kidneySets(xs, ys, fit, style) {
  return [
    { data: pairs(fit), showLine: true, borderColor: '#b8485a', borderWidth: 1, borderDash: [1.5, 1.5],
      pointRadius: 0, order: 1 },
    { data: pts(xs, ys), backgroundColor: kidneyColor, borderWidth: 0, pointStyle: style,
      pointRadius: style === 'rect' ? 3 : 2.5, order: 0 }
  ];
}
function kidneyLegend(x, y, square) {
  const row = document.createElement('div');
  row.className = 'trow';
  row.style.left = x + 'px'; row.style.top = y + 'px';
  row.style.fontSize = '5.5px';
  const mk = document.createElement('i');
  mk.style.background = kidneyColor;
  mk.style.borderRadius = square ? '0' : '50%';
  row.appendChild(mk);
  row.appendChild(document.createTextNode('Kidney'));
  document.body.appendChild(row);
}

scatterPanel('chartF', {
  left: 385, width: 330,
  plot: { l: 444.3, t: 893.3, r: 696.7, b: 1160 },
  xr: [3.29, 9.1], yr: [2.97, 5.70], xTicks: [4, 5, 6, 7, 8, 9], yTicks: [3, 4, 5],
  title: ['Cisplatin (Kidney)', 'Person correlation (r) = 0.33'],
  xTitle: 'KCNN4 (exp, GDSC-MGH-Sanger)', yTitle: 'Cisplatin (act, GDSC-MGH-Sanger)',
  xTitleY: 1192.7, yTitleX: 401.7, xLabelY: 1171.7, yLabelR: 436.7, sides: 'trb', grid: '#f3f3f3',
  datasets: kidneySets(cisKidX, cisKidY, cisKidFit, 'circle')
});
kidneyLegend(707.7, 906.7, false);

scatterPanel('chartG', {
  left: 25, width: 330,
  plot: { l: 86, t: 1281.7, r: 333.3, b: 1548.3 },
  xr: [3.26, 9.09], yr: [3.668, 6.325], xTicks: [4, 5, 6, 7, 8, 9], yTicks: [4, 4.5, 5, 5.5, 6],
  title: ['Sorafenib (Kidney)', 'Person correlation (r) = 0.32'],
  xTitle: 'KCNN4 (exp, GDSC-MGH-Sanger)', yTitle: 'Sorafenib (act, GDSC-MGH-Sanger)',
  xTitleY: 1586, yTitleX: 46.7, xLabelY: 1561.7, yLabelR: 81, sides: 'tb', grid: '#f3f3f3',
  datasets: kidneySets(sorKidX, sorKidY, sorKidFit, 'circle')
});
kidneyLegend(344, 1295, false);

scatterPanel('chartH', {
  left: 385, width: 330,
  plot: { l: 439, t: 1290, r: 691.7, b: 1552.3 },
  xr: [3.23, 9.09], yr: [3.14, 6.09], xTicks: [4, 5, 6, 7, 8, 9], yTicks: [4, 5, 6],
  title: ['Sunitinib (Kidney)', 'Person correlation (r) = 0.41'],
  xTitle: 'KCNN4 (exp, GDSC-MGH-Sanger)', yTitle: 'Sunitinib (act, GDSC-MGH-Sanger)',
  xTitleY: 1586.7, yTitleX: 396.7, xLabelY: 1564, yLabelR: 433.3, sides: 'b', grid: '#f3f3f3',
  datasets: kidneySets(sunKidX, sunKidY, sunKidFit, 'rect')
});
kidneyLegend(702.7, 1299, true);
</script>
</body>
</html>
